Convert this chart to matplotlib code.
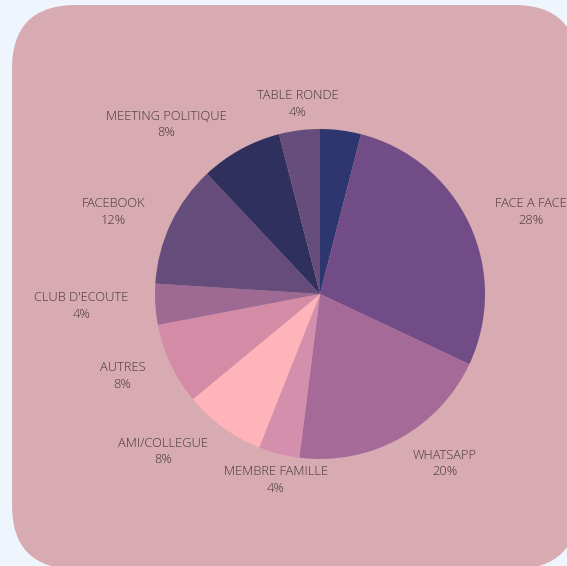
import numpy as np
import matplotlib.pyplot as plt
from matplotlib.patches import FancyBboxPatch

# Parts du camembert (en %), dans le sens horaire depuis midi
labels = ['', 'FACE A FACE', 'WHATSAPP', 'MEMBRE FAMILLE', 'AMI/COLLEGUE', 'AUTRES',
          "CLUB D'ECOUTE", 'FACEBOOK', 'MEETING POLITIQUE', 'TABLE RONDE']
values = [4, 28, 20, 4, 8, 8, 4, 12, 8, 4]
colors = ['#2e3670', '#714c87', '#a66a98', '#d38fac', '#ffb4ba', '#d38ba6',
          '#9e6a94', '#654c7b', '#2f305e', '#674d7b']

W, H = 567, 566
fig = plt.figure(figsize=(W / 100, H / 100), dpi=100)
fig.patch.set_facecolor('#eef5fd')

# axe en pixels : centre du camembert (320, 294), rayon 165 px
R = 165.0
cx, cy = 320.0, H - 294.0
ax = fig.add_axes([0, 0, 1, 1])

wedges, _ = ax.pie(values, colors=colors, startangle=90, counterclock=False,
                   radius=1.0, wedgeprops=dict(linewidth=0))

ax.set_xlim(-cx / R, (W - cx) / R)
ax.set_ylim(-cy / R, (H - cy) / R)
ax.set_aspect('equal')
ax.axis('off')

# carte rose aux coins arrondis
x0, x1 = (12 - cx) / R, (578 - cx) / R
y1, y0 = (H - 5 - cy) / R, (H - 569 - cy) / R
ax.add_patch(FancyBboxPatch((x0, y0), x1 - x0, y1 - y0,
                            boxstyle=f'round,pad=0,rounding_size={64 / R}',
                            facecolor='#d8aab1', edgecolor='none', zorder=0))

px = 72 / 100  # pixels -> points
total = sum(values)
for w, lab, v in zip(wedges, labels, values):
    if not lab:
        continue
    ang = np.deg2rad((w.theta1 + w.theta2) / 2)
    dx, dy = np.cos(ang), np.sin(ang)
    ha = 'left' if dx > 0.3 else ('right' if dx < -0.3 else 'center')
    va = 'bottom' if dy > 0.8 else ('top' if dy < -0.8 else 'center')
    pad = 15 if va == 'center' else 8
    ox = 0 if ha == 'center' else np.sign(dx) * pad
    oy = 16 * dy if va == 'center' else 0
    r = 1.07
    ax.annotate(f'{lab}\n{round(100 * v / total)}%', (r * dx, r * dy),
                xytext=(ox * px, oy * px), textcoords='offset points',
                ha=ha, va=va, multialignment='center', fontsize=9.3,
                family='Open Sans', weight='light', color='#45373e',
                linespacing=1.35)

fig.savefig('out.png', dpi=100, facecolor=fig.get_facecolor())
